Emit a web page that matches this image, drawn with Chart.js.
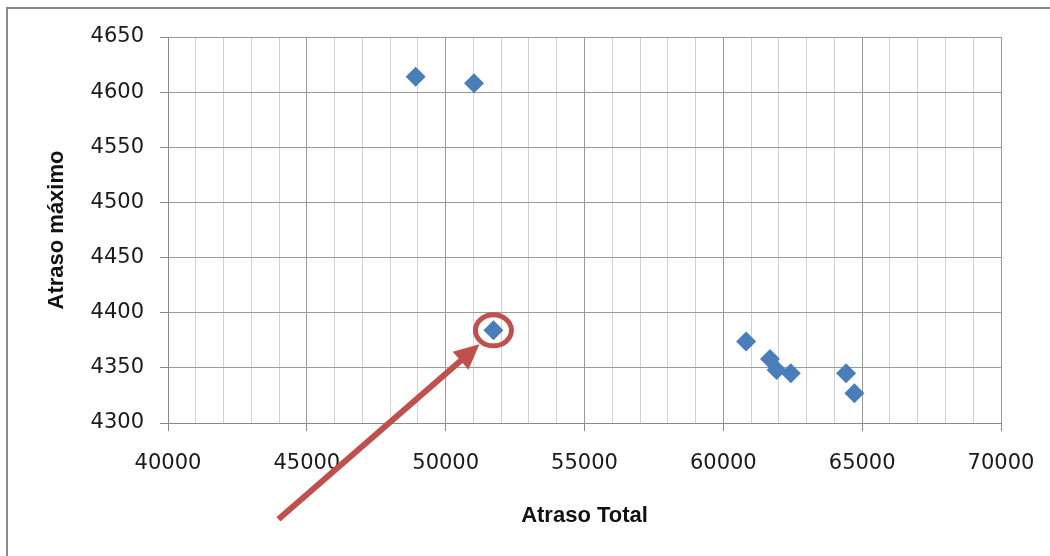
<!DOCTYPE html>
<html>
<head>
<meta charset="utf-8">
<script src="https://cdn.jsdelivr.net/npm/chart.js@4/dist/chart.umd.min.js"></script>
<style>
  body { margin: 0; background: #fff; }
  canvas { display: block; }
</style>
</head>
<body>
<canvas id="scatter" width="1050" height="556"></canvas>
<script>
// values
const atrasoTotal = [48920, 51020, 51720, 60820, 61680, 61920, 62430, 64420, 64720];
const atrasoMaximo = [4614, 4608, 4384, 4374, 4358, 4348, 4345, 4345, 4327];
const highlighted = 2; // the circled point
const xTitle = "Atraso Total";
const yTitle = "Atraso máximo";

const pointColor = "#4a7ebb";
const redColor = "#c0504d";
const tickFont = { family: "DejaVu Sans", size: 21 };
const titleFont = { family: "Liberation Sans", size: 22, weight: "bold" };

const points = atrasoTotal.map((x, i) => ({ x: x, y: atrasoMaximo[i] }));

// outer frame (only left and top edges visible)
const framePlugin = {
  id: "frame",
  beforeDraw(chart) {
    const ctx = chart.ctx;
    ctx.save();
    ctx.fillStyle = "#fff";
    ctx.fillRect(0, 0, chart.width, chart.height);
    ctx.fillStyle = "#8a8a8a";
    ctx.fillRect(6, 7, 2, chart.height - 7);
    ctx.fillRect(6, 7, chart.width - 6, 2);
    ctx.restore();
  }
};

// red circle + arrow pointing at the highlighted point
const markPlugin = {
  id: "mark",
  afterDatasetsDraw(chart) {
    const ctx = chart.ctx;
    const xs = chart.scales.x, ys = chart.scales.y;
    const cx = xs.getPixelForValue(atrasoTotal[highlighted]);
    const cy = ys.getPixelForValue(atrasoMaximo[highlighted]);
    ctx.save();
    ctx.strokeStyle = redColor;
    ctx.fillStyle = redColor;
    ctx.lineWidth = 5;
    ctx.beginPath();
    ctx.ellipse(cx, cy, 18, 15.5, 0, 0, Math.PI * 2);
    ctx.stroke();

    const tailX = cx - 215, tailY = cy + 189;
    const tipX = cx - 14, tipY = cy + 14;
    const ang = Math.atan2(tipY - tailY, tipX - tailX);
    const headLen = 25, headW = 12;
    const baseX = tipX - Math.cos(ang) * headLen;
    const baseY = tipY - Math.sin(ang) * headLen;
    ctx.lineWidth = 6;
    ctx.beginPath();
    ctx.moveTo(tailX, tailY);
    ctx.lineTo(baseX + Math.cos(ang) * 2, baseY + Math.sin(ang) * 2);
    ctx.stroke();
    ctx.beginPath();
    ctx.moveTo(tipX, tipY);
    ctx.lineTo(baseX + Math.sin(ang) * headW, baseY - Math.cos(ang) * headW);
    ctx.lineTo(baseX - Math.sin(ang) * headW, baseY + Math.cos(ang) * headW);
    ctx.closePath();
    ctx.fill();
    ctx.restore();
  }
};

new Chart("scatter", {
  type: "scatter",
  data: {
    datasets: [{
      data: points,
      pointStyle: "rectRot",
      pointRadius: 10,
      pointHoverRadius: 10,
      backgroundColor: pointColor,
      borderColor: pointColor,
      borderWidth: 0
    }]
  },
  options: {
    responsive: false,
    animation: false,
    layout: { autoPadding: false, padding: { left: 0, right: 49, top: 37, bottom: 0 } },
    plugins: { legend: { display: false }, tooltip: { enabled: false } },
    scales: {
      x: {
        type: "linear",
        min: 40000,
        max: 70000,
        afterFit: s => { s.height = 133; s.paddingLeft = 0; s.paddingRight = 0; },
        ticks: {
          stepSize: 1000,
          autoSkip: false,
          maxRotation: 0,
          padding: 20,
          color: "#1a1a1a",
          font: tickFont,
          callback: v => (v % 5000 === 0 ? String(v) : "")
        },
        grid: {
          tickLength: 8,
          color: c => (c.tick && c.tick.value % 5000 === 0 ? "#9a9a9a" : "#d2d2d2"),
          tickColor: c => (c.tick && c.tick.value % 5000 === 0 ? "#8a8a8a" : "rgba(0,0,0,0)")
        },
        border: { color: "#8a8a8a" },
        title: { display: true, text: xTitle, font: titleFont, color: "#111", padding: { top: 0, bottom: 27 } }
      },
      y: {
        min: 4300,
        max: 4650,
        afterFit: s => { s.width = 168; s.paddingTop = 0; s.paddingBottom = 0; },
        ticks: {
          stepSize: 50,
          padding: 16,
          color: "#1a1a1a",
          font: tickFont,
          callback: v => String(v)
        },
        grid: { tickLength: 8, color: "#999999", tickColor: "#8a8a8a" },
        border: { color: "#8a8a8a" },
        title: { display: true, text: yTitle, font: titleFont, color: "#111", padding: { top: 44, bottom: 0 } }
      }
    }
  },
  plugins: [framePlugin, markPlugin]
});
</script>
</body>
</html>
